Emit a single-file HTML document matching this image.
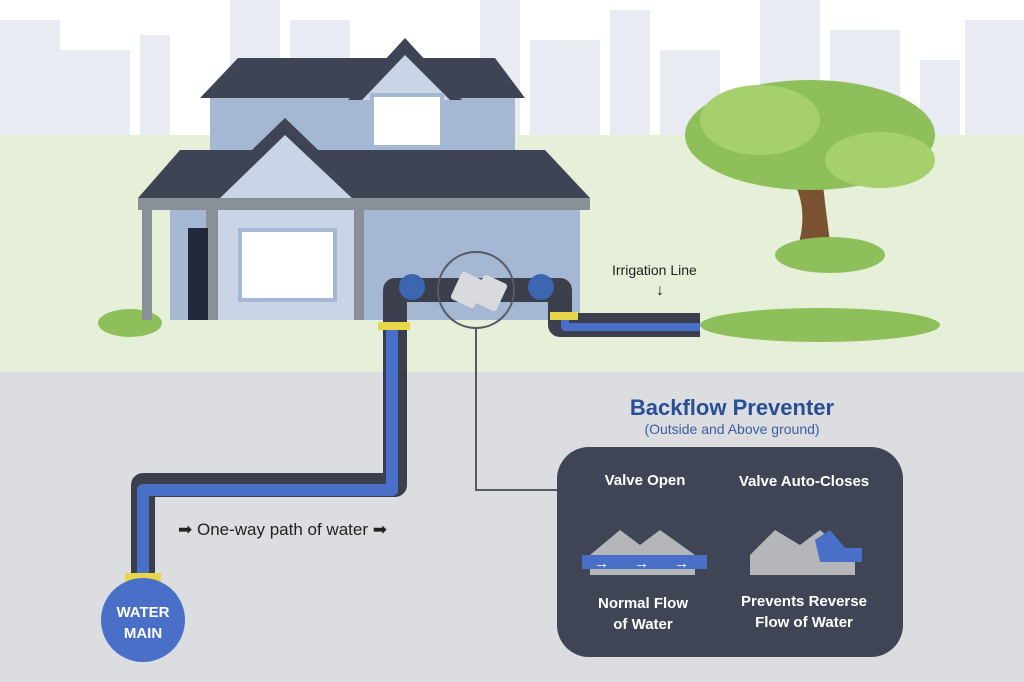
<!DOCTYPE html>
<html><head><style>body{margin:0}svg{display:block}</style></head><body>
<svg width="1024" height="682" viewBox="0 0 1024 682" xmlns="http://www.w3.org/2000/svg" font-family="Liberation Sans, sans-serif">
<rect width="1024" height="682" fill="#ffffff"/>
<g fill="#e8ebf2">
<rect x="0" y="20" width="60" height="120"/><rect x="60" y="50" width="70" height="90"/><rect x="140" y="35" width="30" height="105"/>
<rect x="230" y="0" width="50" height="140"/><rect x="290" y="20" width="60" height="120"/><rect x="480" y="0" width="40" height="140"/>
<rect x="530" y="40" width="70" height="100"/><rect x="610" y="10" width="40" height="130"/><rect x="660" y="50" width="60" height="90"/>
<rect x="760" y="0" width="60" height="140"/><rect x="830" y="30" width="70" height="110"/><rect x="920" y="60" width="40" height="80"/><rect x="965" y="20" width="59" height="120"/>
</g>
<rect x="0" y="135" width="1024" height="237" fill="#e6efd8"/>
<rect x="0" y="372" width="1024" height="310" fill="#dcdde1"/>
<!-- tree -->
<path d="M795 255 Q812 210 790 175 L822 175 Q826 215 832 255 Z" fill="#7a5232"/>
<ellipse cx="810" cy="135" rx="125" ry="55" fill="#8fbf5a"/>
<ellipse cx="760" cy="120" rx="60" ry="35" fill="#a6d06c"/>
<ellipse cx="880" cy="160" rx="55" ry="28" fill="#a6d06c"/>
<ellipse cx="830" cy="255" rx="55" ry="18" fill="#8fbf5a"/>
<!-- bushes -->
<ellipse cx="820" cy="325" rx="120" ry="17" fill="#8fbf5a"/>
<ellipse cx="130" cy="323" rx="32" ry="14" fill="#8fbf5a"/>
<!-- house -->
<rect x="210" y="95" width="305" height="60" fill="#a4b7d3"/>
<polygon points="200,98 238,58 495,58 525,98" fill="#3f4455"/>
<polygon points="348,100 405,38 462,100" fill="#3f4455"/>
<polygon points="362,100 405,55 450,100" fill="#c9d4e6"/>
<rect x="372" y="95" width="70" height="52" fill="#fff" stroke="#a4b7d3" stroke-width="4"/>
<rect x="170" y="198" width="410" height="122" fill="#a4b7d3"/>
<rect x="142" y="198" width="10" height="122" fill="#8a9098"/>
<polygon points="138,198 180,150 545,150 590,198" fill="#3f4455"/>
<polygon points="200,200 285,118 370,200" fill="#3f4455"/>
<polygon points="218,200 285,135 354,200" fill="#c9d4e6"/>
<rect x="218" y="200" width="136" height="120" fill="#c9d4e6"/>
<rect x="206" y="200" width="12" height="120" fill="#8a9098"/><rect x="354" y="200" width="10" height="120" fill="#8a9098"/>
<rect x="240" y="230" width="95" height="70" fill="#fff" stroke="#a4b7d3" stroke-width="4"/>
<rect x="188" y="228" width="20" height="92" fill="#23293a"/>
<rect x="138" y="198" width="452" height="12" fill="#8a9098"/>
<!-- pipes -->
<g fill="none" stroke="#3b3f4c" stroke-width="24" stroke-linejoin="round">
<path d="M143 580 V485 H395 V290 H560 V325 H700"/>
</g>
<g fill="none" stroke="#4a6fc9" stroke-width="12" stroke-linejoin="round">
<path d="M143 580 V490 H392 V325"/>
<path d="M565 320 V327 H700" stroke-width="8"/>
</g>
<rect x="378" y="322" width="32" height="8" fill="#e8d64a"/>
<rect x="550" y="312" width="28" height="8" fill="#e8d64a"/>
<rect x="125" y="573" width="36" height="10" fill="#e8d64a"/>
<circle cx="412" cy="287" r="13" fill="#3c67b0"/><circle cx="541" cy="287" r="13" fill="#3c67b0"/>
<circle cx="476" cy="290" r="38" fill="none" stroke="#555a66" stroke-width="2"/>
<rect x="455" y="275" width="26" height="30" rx="3" fill="#d8dade" transform="rotate(25 468 290)"/>
<rect x="477" y="278" width="26" height="30" rx="3" fill="#d8dade" transform="rotate(25 490 293)"/>
<polyline points="476,328 476,490 557,490" fill="none" stroke="#555a66" stroke-width="2"/>
<circle cx="143" cy="620" r="42" fill="#4a6fc9"/>
<text x="143" y="617" fill="#fff" font-size="15" font-weight="bold" text-anchor="middle">WATER</text>
<text x="143" y="638" fill="#fff" font-size="15" font-weight="bold" text-anchor="middle">MAIN</text>
<text x="178" y="535" fill="#222" font-size="17">➡ One-way path of water ➡</text>
<text x="612" y="275" fill="#222" font-size="14">Irrigation Line</text>
<text x="660" y="295" fill="#222" font-size="16" font-weight="bold" text-anchor="middle">↓</text>
<text x="732" y="415" fill="#284f93" font-size="22" font-weight="bold" text-anchor="middle">Backflow Preventer</text>
<text x="732" y="434" fill="#3d5da0" font-size="14" text-anchor="middle">(Outside and Above ground)</text>
<rect x="557" y="447" width="346" height="210" rx="32" fill="#3f4555"/>
<g fill="#fff" font-size="15" font-weight="bold" text-anchor="middle">
<text x="645" y="485">Valve Open</text><text x="804" y="486">Valve Auto-Closes</text>
<text x="643" y="608">Normal Flow</text><text x="643" y="629">of Water</text>
<text x="804" y="606">Prevents Reverse</text><text x="804" y="627">Flow of Water</text>
</g>
<g fill="#b4b6ba">
<polygon points="590,555 620,530 640,545 660,530 695,555 695,575 590,575"/>
<polygon points="750,555 775,530 800,545 820,530 855,560 855,575 750,575"/>
</g>
<rect x="582" y="555" width="125" height="14" fill="#4a6fc9"/>
<text x="594" y="568" fill="#fff" font-size="15" font-weight="bold">→</text><text x="634" y="568" fill="#fff" font-size="15" font-weight="bold">→</text><text x="674" y="568" fill="#fff" font-size="15" font-weight="bold">→</text>
<polygon points="815,540 830,530 845,548 862,548 862,562 820,562" fill="#4a6fc9"/>
</svg>
</body></html>
